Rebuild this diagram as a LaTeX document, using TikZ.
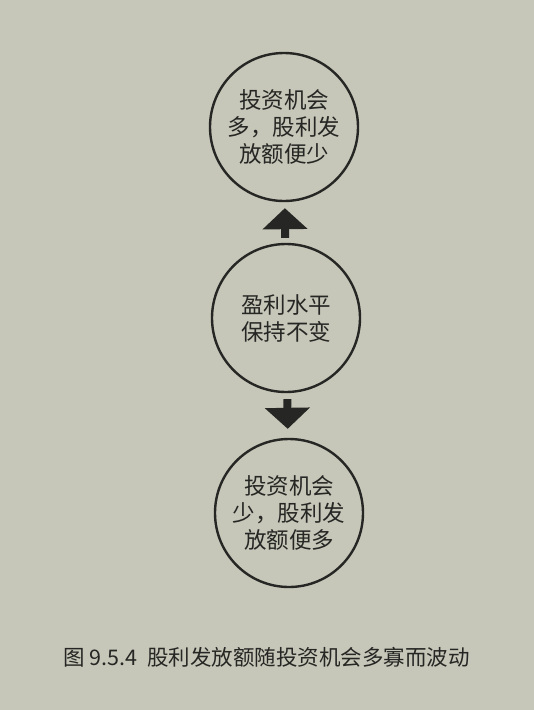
\documentclass[tikz,border=0pt]{standalone}
\usepackage{fontspec}
\newfontfamily\cjk{Noto Sans CJK SC}
\usetikzlibrary{arrows.meta}
\definecolor{paper}{RGB}{198,199,184}
\definecolor{ink}{RGB}{38,38,36}
\begin{document}
\begin{tikzpicture}[x=1pt,y=-1pt,
  bubble/.style={circle,draw=ink,line width=2.4pt,minimum size=148pt,inner sep=0pt,
    align=center,font=\cjk\fontsize{22.5}{27}\selectfont,text=ink},
  fatarrow/.style={draw=ink,line width=8pt,-{Triangle[width=44pt,length=21pt]}}]
\fill[paper] (0,0) rectangle (534,710);
\useasboundingbox (0,0) rectangle (534,710);
\node[bubble] (top) at (284,127) {投资机会\\多，股利发\\放额便少};
\node[bubble] (mid) at (286,318) {盈利水平\\保持不变};
\node[bubble] (bot) at (289,513) {投资机会\\少，股利发\\放额便多};
\draw[fatarrow,shorten <=5pt,shorten >=6pt] (mid) -- (top);
\draw[fatarrow,shorten <=6pt,shorten >=9pt] (mid) -- (bot);
\node[font=\cjk\fontsize{21.5}{24}\selectfont,text=ink,anchor=west,inner sep=0pt] (cap) at (63,657) {图 9.5.4\hspace{10pt}股利发放额随投资机会多寡而波动};
\end{tikzpicture}
\end{document}
